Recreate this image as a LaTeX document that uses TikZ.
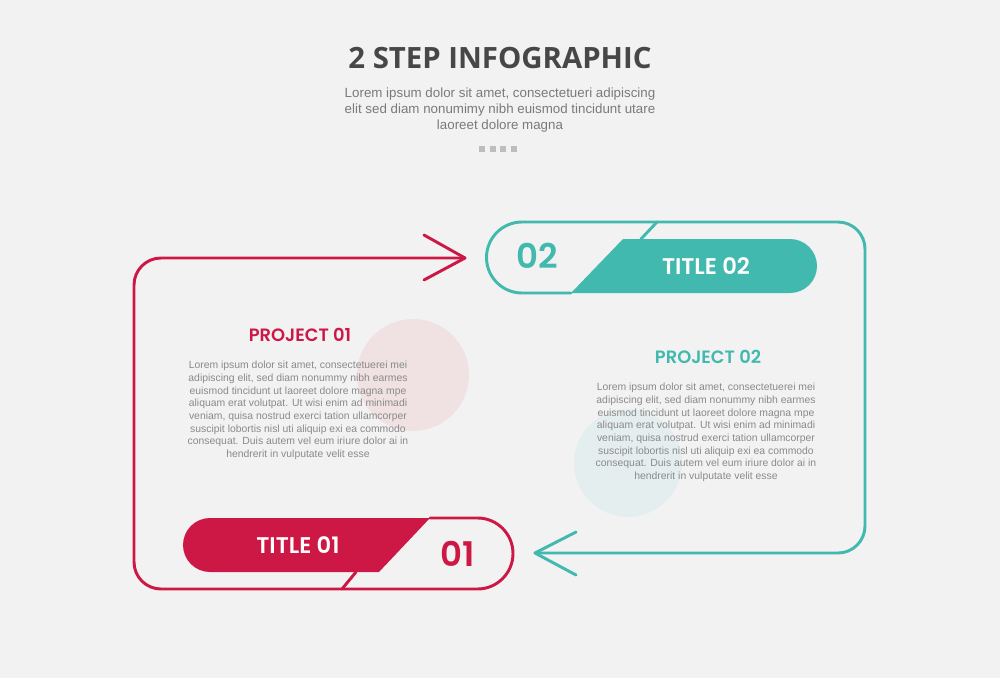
\documentclass[tikz,border=0pt]{standalone}
\usepackage{fontspec}
\setmainfont{Liberation Sans}
\newfontfamily\popfont{Poppins SemiBold}
\newfontfamily\headfont{Open Sans}
\definecolor{bgc}{HTML}{F2F2F2}
\definecolor{redc}{HTML}{CD1846}
\definecolor{tealc}{HTML}{42B9AE}
\definecolor{headc}{HTML}{474747}
\definecolor{subc}{HTML}{7A7A7A}
\definecolor{bodyc}{HTML}{8A8A8A}
\definecolor{dotc}{HTML}{BDBDBD}
\definecolor{pinkc}{HTML}{F0E1E3}
\definecolor{paletealc}{HTML}{E5EEEE}
\tikzset{
  redline/.style={draw=redc, line width=2.2pt, line cap=round, line join=round},
  tealline/.style={draw=tealc, line width=2.2pt, line cap=round, line join=round},
  bodytext/.style={text=bodyc, font=\fontsize{7.8}{9.5}\selectfont, align=center, inner sep=0pt},
  projtext/.style={font=\popfont\fontsize{13.4}{15}\selectfont, inner sep=0pt},
  titletext/.style={text=white, font=\popfont\fontsize{17}{18}\selectfont, inner sep=0pt},
  numtext/.style={font=\popfont\fontsize{25.5}{27}\selectfont, inner sep=0pt},
  dotsq/.style={fill=dotc, minimum size=4.5pt, inner sep=0pt, draw=none}
}
\begin{document}
\begin{tikzpicture}[x=0.75pt, y=-0.75pt]
\useasboundingbox (0,0) rectangle (1000,678);
\fill[bgc] (0,0) rectangle (1000,678);

% decorative circles
\fill[pinkc] (413,375) circle (56);
\fill[paletealc] (628,463) circle (54);

% header
\node[text=headc, font=\headfont\bfseries\fontsize{22}{24}\selectfont, inner sep=0pt] (head) at (500,58) {2 STEP INFOGRAPHIC};
\node[text=subc, font=\fontsize{10}{12}\selectfont, align=center, inner sep=0pt, anchor=north] (sub) at (500,88)
  {Lorem ipsum dolor sit amet, consectetueri adipiscing\\elit sed diam nonumimy nibh euismod tincidunt utare\\laoreet dolore magna};
\node[dotsq] (d1) at (482,149) {};
\node[dotsq] (d2) at (492.5,149) {};
\node[dotsq] (d3) at (503,149) {};
\node[dotsq] (d4) at (513.5,149) {};

% red frame
\draw[redline] (465,258) -- (161,258) arc[start angle=-90, end angle=-180, radius=27]
  -- (134,562) arc[start angle=180, end angle=90, radius=27]
  -- (477.5,589) arc[start angle=90, end angle=-90, radius=35.5]
  -- (430,518);
\draw[redline] (424,235) -- (465,258) -- (424,280);
\fill[redc] (430,518) -- (210,518) arc[start angle=-90, end angle=-270, radius=27] -- (379,572) -- cycle;
\draw[redline] (356,572) -- (342,589);

% teal frame
\draw[tealline] (571,293) -- (522,293) arc[start angle=90, end angle=270, radius=35.5]
  -- (838,222) arc[start angle=-90, end angle=0, radius=27]
  -- (865,526) arc[start angle=0, end angle=90, radius=27]
  -- (535,553);
\draw[tealline] (576,532) -- (535,553) -- (576,575);
\fill[tealc] (623,239) -- (790,239) arc[start angle=-90, end angle=90, radius=27] -- (571,293) -- cycle;
\draw[tealline] (657,222) -- (641,239);

% labels
\node[numtext, text=redc] (n1) at (458,554) {01};
\node[numtext, text=tealc] (n2) at (537,256) {02};
\node[titletext] (t1) at (298,545) {TITLE 01};
\node[titletext] (t2) at (706,266) {TITLE 02};

\node[projtext, text=redc] (p1) at (300,335) {PROJECT 01};
\node[projtext, text=tealc] (p2) at (708,357) {PROJECT 02};

\node[bodytext, anchor=north] (b1) at (298,361)
  {Lorem ipsum dolor sit amet, consectetuerei mei\\adipiscing elit, sed diam nonummy nibh earmes\\euismod tincidunt ut laoreet dolore magna mpe\\aliquam erat volutpat. Ut wisi enim ad minimadi\\veniam, quisa nostrud exerci tation ullamcorper\\suscipit lobortis nisl uti aliquip exi ea commodo\\consequat. Duis autem vel eum iriure dolor ai in\\hendrerit in vulputate velit esse};
\node[bodytext, anchor=north] (b2) at (706,383)
  {Lorem ipsum dolor sit amet, consectetuerei mei\\adipiscing elit, sed diam nonummy nibh earmes\\euismod tincidunt ut laoreet dolore magna mpe\\aliquam erat volutpat. Ut wisi enim ad minimadi\\veniam, quisa nostrud exerci tation ullamcorper\\suscipit lobortis nisl uti aliquip exi ea commodo\\consequat. Duis autem vel eum iriure dolor ai in\\hendrerit in vulputate velit esse};
\end{tikzpicture}
\end{document}
